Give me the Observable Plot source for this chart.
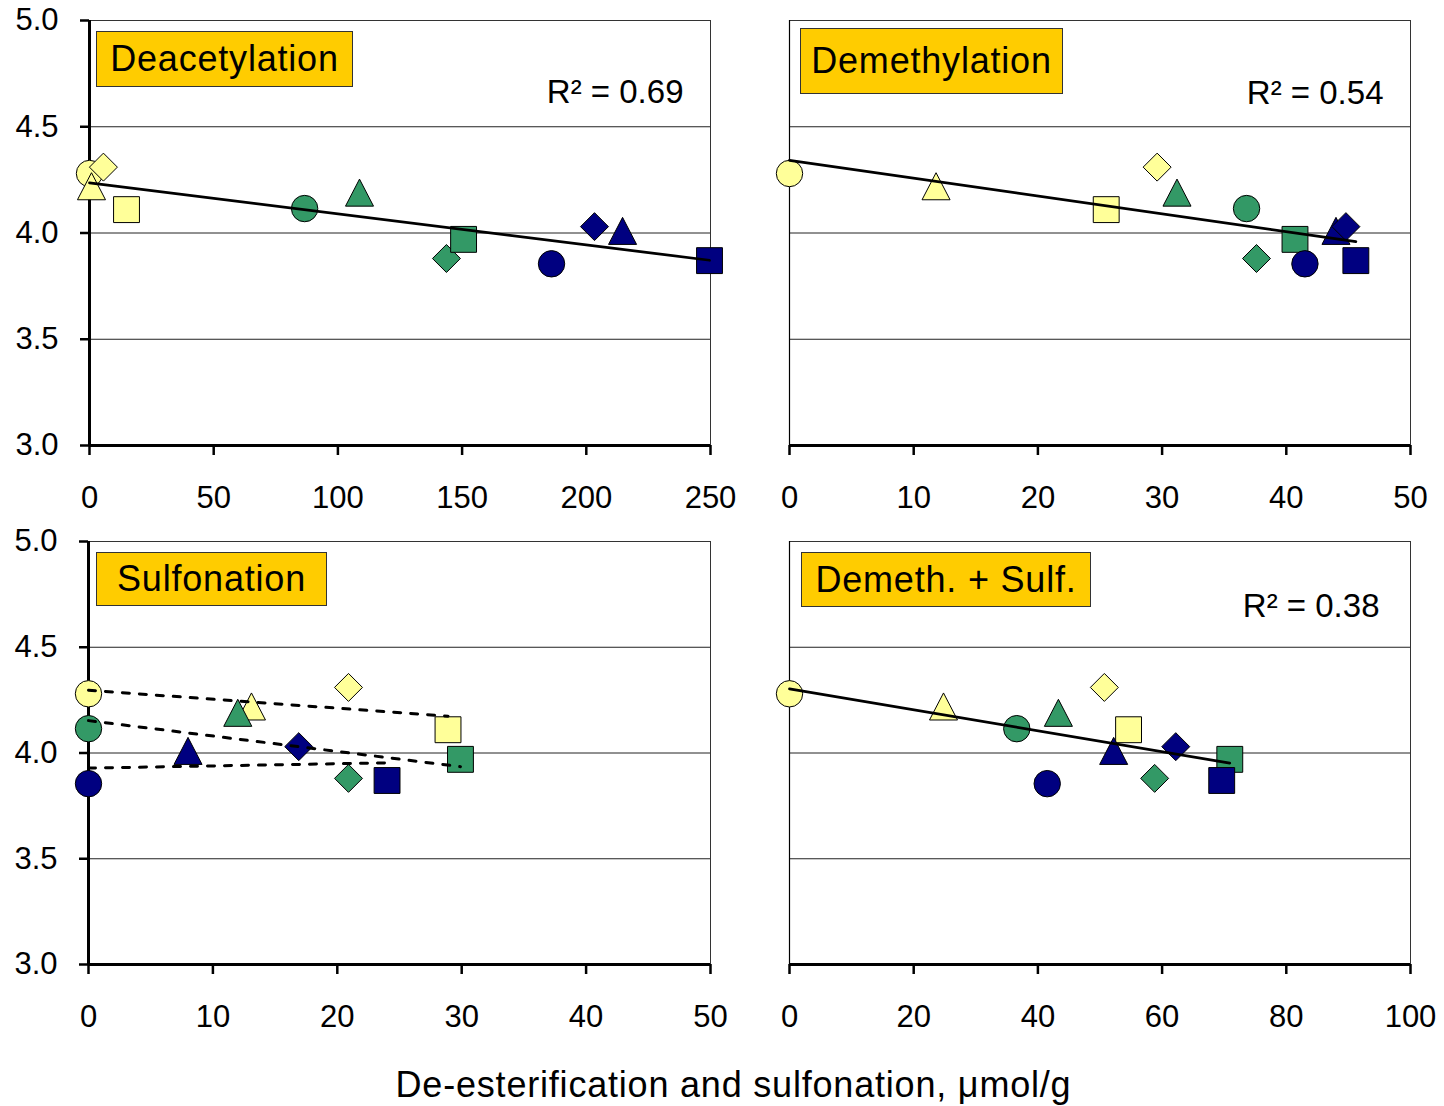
<!DOCTYPE html>
<html>
<head>
<meta charset="utf-8">
<script src="https://cdn.jsdelivr.net/npm/d3@7"></script>
<script src="https://cdn.jsdelivr.net/npm/@observablehq/plot@0.6"></script>
<style>
  body { margin: 0; background: #fff; font-family: 'Liberation Sans', Arial, sans-serif; }
  #root { position: relative; width: 1444px; height: 1106px; overflow: hidden; background: #fff; }
  .panel { position: absolute; }
  .tag { position: absolute; box-sizing: border-box; background: #FFCC00; border: 1.5px solid #333;
         display: flex; align-items: center; justify-content: center; font-size: 36px;
         letter-spacing: 0.8px; color: #000; white-space: nowrap; }
  .xlabel { position: absolute; left: 0; width: 1467px; top: 1064px; text-align: center;
            font-size: 36px; letter-spacing: 0.8px; color: #000; }
</style>
</head>
<body>
<div id="root"></div>
<script>
// ---- data ----
const groups = ["G1", "G2", "G3"];
const sampleGroup = ["G1", "G1", "G1", "G1", "G2", "G2", "G2", "G2", "G3", "G3", "G3", "G3"];
const sampleShape = ["circle", "triangle", "diamond", "square",
                     "circle", "triangle", "diamond", "square",
                     "circle", "triangle", "diamond", "square"];
const phValue = [4.28, 4.22, 4.31, 4.11,
                 4.115, 4.19, 3.88, 3.97,
                 3.855, 4.01, 4.03, 3.87];
const deacetylation = [0, 0.8, 5.6, 14.9, 86.6, 108.7, 143.7, 150.6, 186, 214.6, 203.3, 249.6];
const demethylation = [0, 11.8, 29.6, 25.5, 36.8, 31.2, 37.6, 40.7, 41.5, 44.0, 44.8, 45.6];
const sulfonation   = [0, 13.1, 20.9, 28.9, 0, 12.0, 20.9, 29.9, 0, 8.0, 16.9, 24.0];
const demethSulf    = [0, 24.8, 50.7, 54.6, 36.6, 43.3, 58.8, 70.9, 41.5, 52.2, 62.2, 69.6];

const panelTitles = ["Deacetylation", "Demethylation", "Sulfonation", "Demeth. + Sulf."];
const r2Labels = ["R\u00B2 = 0.69", "R\u00B2 = 0.54", null, "R\u00B2 = 0.38"];
const xDomains = [[0, 250], [0, 50], [0, 50], [0, 100]];
const xTicks = [[0, 50, 100, 150, 200, 250], [0, 10, 20, 30, 40, 50],
                [0, 10, 20, 30, 40, 50], [0, 20, 40, 60, 80, 100]];
const yTicks = [3.0, 3.5, 4.0, 4.5, 5.0];
const xLabel = "De-esterification and sulfonation, \u03BCmol/g";

// ---- styling ----
const groupColors = ["#FFFF99", "#339966", "#000080"];
const triangleSym = {
  draw(ctx, size) {
    const s = Math.sqrt(size);
    const hw = s * 0.565, hh = s * 0.545;
    ctx.moveTo(0, -hh); ctx.lineTo(hw, hh); ctx.lineTo(-hw, hh); ctx.closePath();
  }
};
const symbolOf = { circle: d3.symbolCircle, triangle: triangleSym, diamond: d3.symbolDiamond2, square: d3.symbolSquare };
const radiusOf = { circle: 13.2, triangle: 14, diamond: 12.6, square: 14.6 };

const seriesX = [deacetylation, demethylation, sulfonation, demethSulf];
const layout = [
  { left: 0,   top: 0,   width: 740, height: 520, ml: 89, mr: 30, mt: 20, mb: 75, yAxis: true,  dashed: false,
    tag: { left: 96, top: 31, w: 257, h: 56 }, r2: { dx: -27, dy: 59 } },
  { left: 740, top: 0,   width: 704, height: 520, ml: 49, mr: 34, mt: 20, mb: 75, yAxis: false, dashed: false,
    tag: { left: 800, top: 28, w: 263, h: 66 }, r2: { dx: -27, dy: 60 } },
  { left: 0,   top: 521, width: 740, height: 518, ml: 88, mr: 30, mt: 20, mb: 75, yAxis: true,  dashed: true,
    tag: { left: 96, top: 552, w: 231, h: 54 }, r2: null },
  { left: 740, top: 521, width: 704, height: 518, ml: 49, mr: 34, mt: 20, mb: 75, yAxis: false, dashed: false,
    tag: { left: 801, top: 552, w: 290, h: 55 }, r2: { dx: -31, dy: 52 } }
];

const root = document.getElementById("root");

layout.forEach((L, i) => {
  const rows = sampleGroup.map((g, k) => ({ group: g, shape: sampleShape[k], ph: phValue[k], x: seriesX[i][k] }));
  const marks = [
    Plot.gridY(yTicks.slice(1, -1), { stroke: "#222", strokeOpacity: 1, strokeWidth: 1 }),
    Plot.frame({ stroke: "#333", strokeWidth: 1 }),
    Plot.axisX({ ticks: xTicks[i], tickSize: 10, tickPadding: 30, strokeWidth: 2.5, label: null, tickFormat: d3.format("d") }),
    Plot.ruleY([yTicks[0]], { stroke: "black", strokeWidth: 3 })
  ];
  if (L.yAxis) {
    marks.push(Plot.axisY({ ticks: yTicks, tickSize: 9, tickPadding: 22, strokeWidth: 2.5, label: null, tickFormat: d3.format(".1f") }));
    marks.push(Plot.ruleX([xDomains[i][0]], { stroke: "black", strokeWidth: 3 }));
  } else {
    marks.push(Plot.ruleX([xDomains[i][0]], { stroke: "black", strokeWidth: 1.2 }));
  }
  marks.push(Plot.dot(rows, {
    x: "x", y: "ph", fill: "group",
    symbol: d => symbolOf[d.shape], r: d => radiusOf[d.shape],
    stroke: "black", strokeWidth: 1, sort: null
  }));
  if (L.dashed) {
    marks.push(Plot.linearRegressionY(rows, { x: "x", y: "ph", z: "group", stroke: "black", strokeWidth: 3, strokeDasharray: "7,10", ci: 0 }));
  } else {
    marks.push(Plot.linearRegressionY(rows, { x: "x", y: "ph", stroke: "black", strokeWidth: 2.75, ci: 0 }));
  }
  if (L.r2 && r2Labels[i]) {
    marks.push(Plot.text([r2Labels[i]], { text: d => d, frameAnchor: "top-right", lineAnchor: "top", textAnchor: "end",
      dx: L.r2.dx, dy: L.r2.dy, fontSize: 33, fill: "black" }));
  }
  const svg = Plot.plot({
    width: L.width, height: L.height,
    marginLeft: L.ml, marginRight: L.mr, marginTop: L.mt, marginBottom: L.mb,
    x: { domain: xDomains[i] },
    y: { domain: [yTicks[0], yTicks[yTicks.length - 1]], axis: L.yAxis ? undefined : null },
    r: { type: "identity" },
    color: { domain: groups, range: groupColors },
    style: { background: "transparent", fontFamily: "'Liberation Sans', Arial, sans-serif", fontSize: "31px", overflow: "visible", color: "black" },
    marks
  });
  svg.classList.add("panel");
  svg.style.left = L.left + "px";
  svg.style.top = L.top + "px";
  root.appendChild(svg);

  const tag = document.createElement("div");
  tag.className = "tag";
  tag.textContent = panelTitles[i];
  tag.style.left = L.tag.left + "px";
  tag.style.top = L.tag.top + "px";
  tag.style.width = L.tag.w + "px";
  tag.style.height = L.tag.h + "px";
  root.appendChild(tag);
});

const xl = document.createElement("div");
xl.className = "xlabel";
xl.textContent = xLabel;
root.appendChild(xl);
</script>
</body>
</html>
